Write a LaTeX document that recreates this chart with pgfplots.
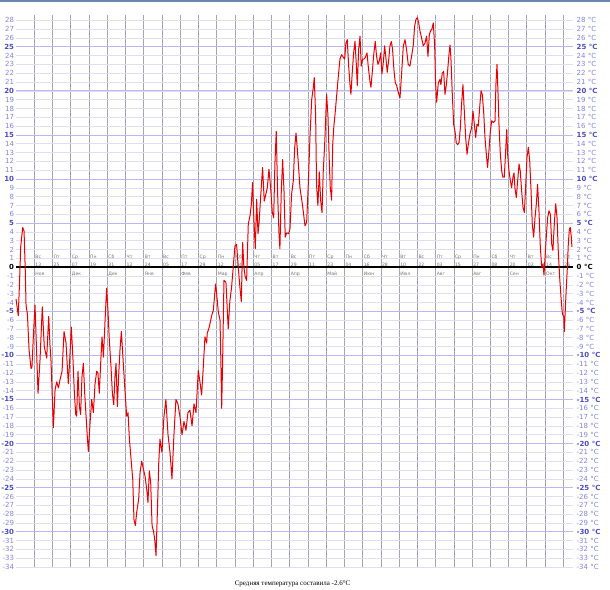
\documentclass[border=0pt]{standalone}
\usepackage{fontspec}
\setmainfont{DejaVu Sans}
\newfontfamily\capfont{Liberation Serif}
\usepackage{pgfplots}
\usepackage{pgfplotstable}
\pgfplotsset{compat=1.18}
\definecolor{gridmin}{RGB}{222,222,246}
\definecolor{gridmaj}{RGB}{185,185,235}
\definecolor{vgrid}{RGB}{165,165,178}
\definecolor{lblreg}{RGB}{130,130,228}
\definecolor{lblbold}{RGB}{75,75,195}
\definecolor{datelbl}{RGB}{115,115,115}
\definecolor{topbar}{RGB}{105,135,175}
\definecolor{tline}{RGB}{235,0,0}
\tikzset{dlbl/.style={anchor=base west, inner sep=0pt, xshift=1pt, font=\fontsize{4.6}{5}\selectfont, text=datelbl}}
\newcommand\lbl[2]{\edef\tv{\the\numexpr#1\relax}%
\ifnum\tv=0 \textbf{0#2}\else
\ifnum\numexpr(\tv/5)*5\relax=\tv\relax \textcolor{lblbold}{\textbf{\tv#2}}\else\textcolor{lblreg}{\tv#2}\fi\fi}
\newcommand\dl[4]{\node[dlbl] at (axis cs:#1,0.98) {#2};\node[dlbl] at (axis cs:#1,0.12) {#3};\node[dlbl] at (axis cs:#1,-0.95) {#4};}
\pgfplotstableread{
x y
0 -3.6
1.5 -5.5
2.2 -2.3
3.1 2.3
4.4 4.5
5.3 4.1
6.1 -0.4
6.6 -4.3
7.5 -5.3
8.6 -9.4
9.9 -11.5
10.5 -11.3
11.4 -7.9
12.5 -4.3
13.6 -9.8
14.5 -14.3
15.8 -10.5
17.3 -4.5
18.6 -9.0
20.2 -10.3
21.5 -5.6
22.4 -9
23.0 -10.5
24.1 -15.8
24.6 -18.2
25.7 -13.9
26.8 -13
27.9 -13.7
28.9 -12.8
30.3 -11.8
31.6 -7.3
32.9 -8.6
34.4 -13.2
35.1 -11.3
36.4 -6.8
37.5 -10.5
38.4 -14.3
39.3 -16.7
39.9 -16.9
40.8 -11.8
41.7 -15.8
42.5 -16.7
43.4 -12.4
44.3 -10.9
45.2 -14.3
46.1 -16.9
46.9 -19.2
47.6 -20.9
48.7 -17.7
49.8 -15
50.9 -16.5
52.0 -13.2
53.1 -11.8
53.9 -12
54.8 -14.3
55.7 -10.9
56.6 -7.9
57.5 -10.2
58.6 -6
59.6 -2.4
60.5 -4.9
61.4 -8.3
62.5 -11.3
63.4 -14.3
64.3 -15.6
65.1 -12.4
65.8 -10.9
66.7 -15.8
67.5 -12.4
68.4 -9.4
69.3 -7.3
70.2 -9.8
71.5 -13.5
72.8 -16.9
73.7 -16.5
74.6 -19.5
75.9 -22.2
76.8 -24.1
77.6 -28.6
78.5 -29.3
79.4 -27.8
80.7 -26.3
81.6 -23.3
82.7 -22
83.8 -22.9
84.9 -23.7
86.0 -25.2
86.8 -26.7
87.7 -23.1
88.6 -24.4
89.5 -29.3
90.4 -29.9
91.2 -30.8
92.1 -32.7
93.0 -27.8
93.9 -22.2
94.7 -19.5
96.0 -21
97.3 -17
98.6 -15
100.0 -19
101.3 -21
102.6 -24
103.9 -19
105.2 -15
106.5 -15.5
107.9 -17
109.2 -19
110.5 -17.5
111.8 -18.5
113.1 -16.5
114.4 -16.2
115.8 -18
117.1 -15.5
118.4 -16.5
119.9 -11.7
121.0 -13
122.1 -14.5
123.2 -11.3
124.3 -7.9
125.4 -8.6
125.8 -7.5
127.1 -6.8
128.7 -5.5
129.8 -4.9
131.3 -1.9
132.0 -3
133.1 -5.1
134.2 -6
134.8 -10.9
135.3 -16
135.9 -10.9
136.8 -1.5
138.1 -1.7
139.6 -7
140.7 -3.8
141.8 -2.3
142.9 0
144.0 2.4
145.1 2.6
146.2 0
147.3 -2.3
148.2 -3.9
149.1 2.8
149.9 0
150.8 -1.1
151.7 -1.5
152.8 4.9
153.9 5.8
154.8 7.1
155.6 9.6
156.5 5.3
157.4 2.1
158.3 7.7
159.2 3.8
160.0 5.3
160.9 7.9
162.2 11.3
163.3 7.5
164.4 8.3
165.3 9
166.4 11.1
167.5 9
168.6 6.2
169.5 5.6
170.3 11.7
171.2 15.4
172.1 8.3
173.0 3.8
173.6 2.1
174.5 8.6
175.4 12.2
176.3 8.6
177.1 3.4
178.0 3.9
179.3 3.8
180.2 4.3
181.3 8.3
182.4 9.8
183.3 13.5
184.2 15.2
185.0 13.5
185.9 11.3
186.8 9
188.5 7.0
190.1 4.7
191.2 5.1
192.3 9.6
193.4 14.9
194.5 19.0
195.6 20.4
196.2 21.5
197.1 17.2
197.7 9.3
198.6 7.0
199.5 10.8
200.4 7.6
201.3 6.2
202.1 10.8
203.2 14.5
204.3 19.6
205.2 17.2
206.1 11.9
206.7 9.1
207.6 7.6
208.3 13.8
209.1 16.0
210.0 17.6
210.9 19.4
212.0 21.6
213.1 23.6
214.2 24.1
215.3 23.8
216.2 23.6
217.0 25.4
217.9 25.8
218.8 22.9
219.7 20.7
220.3 19.6
221.2 22.1
222.1 24.3
223.0 25.6
223.8 23.2
224.5 20.6
225.4 24.7
226.3 26.2
227.1 22.8
228.0 23.6
228.9 23.6
229.8 23.8
230.9 24.3
231.7 22.8
232.8 21.1
233.5 20.4
234.4 22.2
235.2 23.9
236.3 25.6
237.2 23.9
238.1 23.0
239.0 23.4
239.9 24.3
240.7 21.9
241.6 23.2
242.5 25.1
243.4 23.6
244.2 22.1
245.1 23.4
246.0 25.1
246.9 25.6
247.7 24.7
248.6 22.4
249.5 20.9
250.4 20.6
251.5 19.8
252.6 19.2
253.7 22.1
254.8 25.1
255.9 25.8
256.9 24.7
258.0 23.0
259.1 22.8
260.2 23.9
261.3 25.1
262.2 27.3
263.1 28.1
264.0 28.3
264.9 27.7
265.7 26.8
266.8 26.0
267.9 25.1
269.0 25.4
270.1 26.2
271.0 23.9
271.9 26.4
272.7 26.8
273.6 27.0
274.5 27.7
275.4 25.1
276.0 20.9
276.7 18.7
277.8 20.9
278.9 21.3
279.5 20.7
280.4 22
281.3 22.2
282.2 19.6
283.1 20.7
283.9 22.2
284.8 24.1
285.5 25.2
286.1 23.7
287.0 19.6
287.9 16.2
288.8 15.4
289.6 14.1
290.5 13.9
291.4 14.1
292.3 15.8
293.1 18.5
294.0 20.7
294.9 17.7
295.8 14.7
296.7 12.8
297.5 13.9
298.6 15.1
299.7 15.8
300.6 17.7
301.5 16.2
302.4 14.7
303.2 16.2
304.1 16
305.0 18.1
305.9 20
306.7 19.6
307.6 17.7
308.5 14.7
309.4 12.8
310.2 11.3
311.1 13.2
312.0 15.4
312.9 16.6
314.0 16.4
315.1 16.6
315.7 20.7
316.4 23
317.1 19.6
317.7 16.2
318.6 12.8
319.5 10.9
320.3 10.2
321.2 10.2
322.1 13.2
322.8 15.6
323.4 12.8
324.3 10.9
325.2 9.8
326.0 9
326.9 10.2
327.6 10.7
328.2 9
329.1 7.9
330.0 9.8
330.9 11.7
331.7 10.9
332.6 8.7
333.5 6.8
334.4 6.2
335.2 9
336.1 12.4
337.0 13.6
337.9 12.1
338.8 8.7
339.6 4.9
340.5 3.4
341.4 5.6
342.3 7.2
343.1 9.4
344.0 6.4
344.9 2.3
345.8 0
346.7 0.4
347.3 -0.9
348.0 1.1
348.8 3.4
349.7 5.6
350.6 6.4
351.5 6
352.4 2.6
353.2 1.9
354.1 4.9
355.0 7.2
355.9 5.6
356.7 1.9
357.6 -1.1
358.5 -3.4
359.4 -5.3
360.3 -5.6
360.7 -7.3
361.3 -4.9
362.0 -2.3
362.7 0
363.3 2.6
364.0 4.3
364.6 4.5
365.3 3.4
365.7 2.3
}\temps
\begin{document}
\begin{tikzpicture}[x=1pt,y=1pt]
\path[use as bounding box] (0,0) rectangle (610,589);
\fill[topbar] (0,587) rectangle (610,589);
\begin{axis}[at={(16pt,22pt)}, anchor=south west, scale only axis,
  width=557pt, height=552pt,
  xmin=0, xmax=366.4, ymin=-34, ymax=28.6,
  axis line style={draw=none}, tick style={draw=none},
  xtick={12,24,...,360}, xticklabels={}, xmajorgrids,
  major x grid style={vgrid, line width=0.6pt},
  ytick={-34,-33,...,28}, ymajorgrids,
  major y grid style={gridmin, line width=0.6pt},
  yticklabel={\lbl{\ticknum-34}{}},
  yticklabel style={inner sep=0pt, xshift=-1.8pt, font=\fontsize{7}{8}\selectfont},
  clip=false]
\pgfplotsinvokeforeach{-30,-25,-20,-15,-10,-5,5,10,15,20,25}{
  \draw[gridmaj, line width=0.7pt] (axis cs:0,#1) -- (axis cs:366.4,#1);}
\draw[black, line width=1.4pt] (axis cs:0,0) -- (axis cs:366.4,0);
\dl{12}{Вс}{13}{Ноя}
\dl{24}{Пт}{25}{}
\dl{36}{Ср}{07}{Дек}
\dl{48}{Пн}{19}{}
\dl{60}{Сб}{31}{Дек}
\dl{72}{Чт}{12}{}
\dl{84}{Вт}{24}{Янв}
\dl{96}{Вс}{05}{}
\dl{108}{Пт}{17}{Фев}
\dl{120}{Ср}{29}{}
\dl{132}{Пн}{12}{Мар}
\dl{144}{Сб}{24}{}
\dl{156}{Чт}{05}{Апр}
\dl{168}{Вт}{17}{}
\dl{180}{Вс}{29}{Апр}
\dl{192}{Пт}{11}{}
\dl{204}{Ср}{23}{Май}
\dl{216}{Пн}{04}{}
\dl{228}{Сб}{16}{Июн}
\dl{240}{Чт}{28}{}
\dl{252}{Вт}{10}{Июл}
\dl{264}{Вс}{22}{}
\dl{276}{Пт}{03}{Авг}
\dl{288}{Ср}{15}{}
\dl{300}{Пн}{27}{Авг}
\dl{312}{Сб}{08}{}
\dl{324}{Чт}{20}{Сен}
\dl{336}{Вт}{02}{}
\dl{348}{Вс}{14}{Окт}
\dl{360}{Пт}{26}{}
\addplot[color=tline, line width=1pt, line join=round, mark=none] table[x=x,y=y] {\temps};
\end{axis}
\begin{axis}[at={(16pt,22pt)}, anchor=south west, scale only axis,
  width=557pt, height=552pt,
  xmin=0, xmax=366.4, ymin=-34, ymax=28.6,
  axis line style={draw=none}, tick style={draw=none},
  xtick=\empty, ytick={-34,-33,...,28}, yticklabel pos=right,
  yticklabel={\lbl{\ticknum-34}{~°C}},
  yticklabel style={inner sep=0pt, xshift=3.5pt, anchor=west, font=\fontsize{7}{8}\selectfont}]
\end{axis}
\node[font=\capfont\fontsize{7}{8}\selectfont, anchor=base] at (292.5,3.5) {Средняя температура составила -2.6°C};
\end{tikzpicture}
\end{document}
